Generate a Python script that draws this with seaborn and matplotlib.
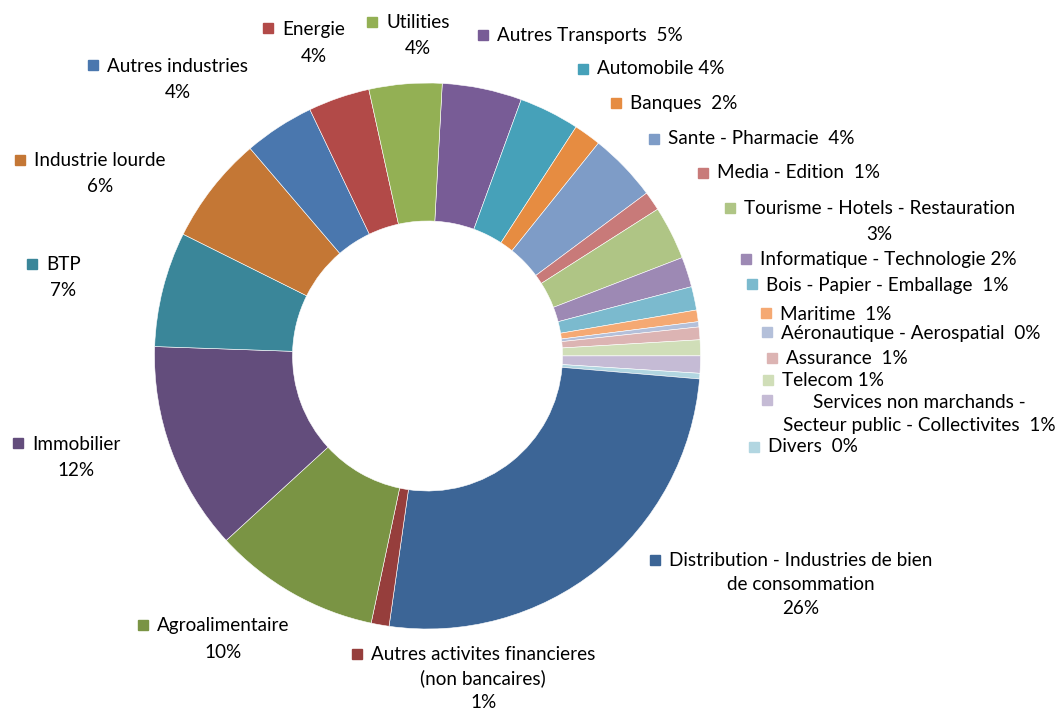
import matplotlib
matplotlib.use("Agg")
import matplotlib.pyplot as plt
import seaborn as sns

# ===== DATA (clockwise from the top) =====
sectors = ["Autres Transports", "Automobile", "Banques", "Sante - Pharmacie",
           "Media - Edition", "Tourisme - Hotels - Restauration",
           "Informatique - Technologie", "Bois - Papier - Emballage", "Maritime",
           "Aéronautique - Aerospatial", "Assurance", "Telecom",
           "Services non marchands - Secteur public - Collectivites", "Divers",
           "Distribution - Industries de bien de consommation",
           "Autres activites financieres (non bancaires)", "Agroalimentaire",
           "Immobilier", "BTP", "Industrie lourde", "Autres industries",
           "Energie", "Utilities"]
shares = [4.72, 3.58, 1.61, 4.06, 1.14, 3.17, 1.78, 1.39, 0.69, 0.31, 0.75, 0.94,
          1.02, 0.33, 25.92, 1.06, 9.89, 12.36, 6.81, 6.39, 4.17, 3.64, 4.31]
# label layout as in the original (line breaks and spacing)
label_templates = ["Autres Transports  {}", "Automobile {}", "Banques  {}",
                   "Sante - Pharmacie  {}", "Media - Edition  {}",
                   "Tourisme - Hotels - Restauration\n{}",
                   "Informatique - Technologie {}", "Bois - Papier - Emballage  {}",
                   "Maritime  {}", "Aéronautique - Aerospatial  {}", "Assurance  {}",
                   "Telecom {}", "Services non marchands -\nSecteur public - Collectivites  {}",
                   "Divers  {}", "Distribution - Industries de bien\nde consommation\n{}",
                   "Autres activites financieres\n(non bancaires)\n{}",
                   "Agroalimentaire\n{}", "Immobilier\n{}", "BTP\n{}",
                   "Industrie lourde\n{}", "Autres industries\n{}", "Energie\n{}",
                   "Utilities\n{}"]

colors = ["#785C96", "#46A1B9", "#E68C41", "#7E9CC7", "#C87A79", "#AFC585",
          "#9D89B4", "#7BBACE", "#F5A973", "#B4C0DA", "#DCB4B3", "#D0DEB8",
          "#C5BBD5", "#B2D6E1", "#3C6596", "#963E3C", "#7A9444", "#634D7C",
          "#3A8699", "#C47735", "#4A77AE", "#B24A48", "#93B054"]

# label placement in pixels: key square (x, y), first text line y, line step
label_pos = [(483, 35, 36, 25), (583, 69, 69, 25), (616, 103, 103, 25),
             (654, 139, 139, 25), (703, 173, 173, 25), (730, 208, 209, 26),
             (746, 259, 259, 25), (752, 284, 285, 25), (766, 313, 314, 25),
             (767, 332, 333, 25), (772, 358, 359, 25), (768, 380, 380, 25),
             (767, 400, 402, 24), (754, 447, 447, 25), (655, 560, 560, 24),
             (357, 654, 654, 24), (143, 625, 626, 26), (18, 443, 444, 26),
             (32, 264, 265, 26), (20, 160, 161, 26), (93, 65, 67, 26),
             (268, 28, 30, 26), (372, 22, 22, 26)]
# Services label: its second line is the widest one
wide_second_line = {12}

sns.set_style("white")
plt.rcParams['font.family'] = ['Lato', 'DejaVu Sans']
FS = 13.6

W, H = 1059, 711
fig = plt.figure(figsize=(W / 100, H / 100), dpi=100)
ax = fig.add_axes([0, 0, 1, 1])

cx, cy, R = 427.5, H - 356, 273
ax.pie(shares, colors=colors, startangle=86.9, counterclock=False,
       center=(cx, cy), radius=R,
       wedgeprops=dict(width=138, edgecolor='white', linewidth=0.4))
ax.set_xlim(0, W)
ax.set_ylim(0, H)
ax.set_aspect('equal')
ax.axis('off')

renderer = fig.canvas.get_renderer()
total = sum(shares)
for k, (tpl, share, col, (kx, ky, ty, step)) in enumerate(zip(label_templates, shares, colors, label_pos)):
    text = tpl.format(f"{share / total * 100:.0f}%")
    lines = text.split("\n")
    ax.plot(kx, H - ky, marker='s', ms=7.5, color=col, ls='none', clip_on=False)
    # text starts right after the key; lines are centred on each other
    ref_line = lines[1] if k in wide_second_line else lines[0]
    probe = ax.text(0, 0, ref_line, fontsize=FS)
    w = probe.get_window_extent(renderer).width
    probe.remove()
    centre = kx + (16 if k in wide_second_line else 14) + w / 2
    for i, line in enumerate(lines):
        ax.text(centre, H - (ty + i * step), line, ha='center', va='center',
                fontsize=FS, color='black')

fig.savefig("out.png", dpi=100, facecolor='white')
